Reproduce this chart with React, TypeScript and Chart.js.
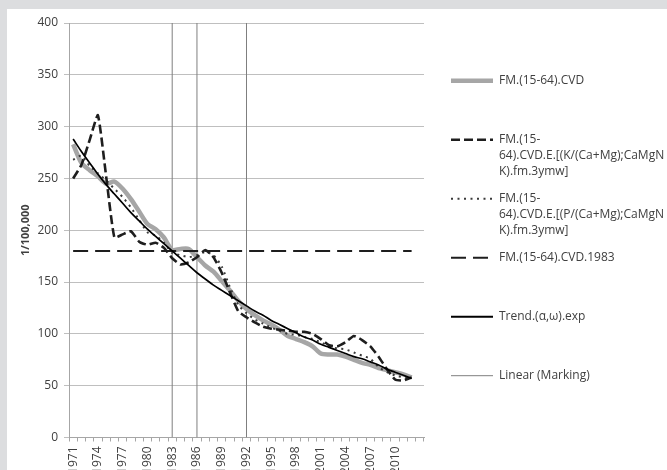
import React, { useEffect, useRef } from "react";
import { Chart, registerables } from "chart.js";

Chart.register(...registerables);

// Category axis (1971–2012 plus one trailing blank category)
const years: string[] = [
  "1971", "1972", "1973", "1974", "1975", "1976", "1977", "1978", "1979", "1980",
  "1981", "1982", "1983", "1984", "1985", "1986", "1987", "1988", "1989", "1990",
  "1991", "1992", "1993", "1994", "1995", "1996", "1997", "1998", "1999", "2000",
  "2001", "2002", "2003", "2004", "2005", "2006", "2007", "2008", "2009", "2010",
  "2011", "2012", "",
];

// FM.(15-64).CVD
const cvd: number[] = [
  283, 265, 258, 252, 245, 247, 240, 230, 218, 206,
  201, 193, 181, 182, 182, 174, 166, 160, 151, 142,
  132, 124, 118, 113, 109, 104, 98, 95, 92, 88,
  81, 80, 80, 78, 75, 72, 70, 67, 65, 63,
  61, 58,
];

// FM.(15-64).CVD.E.[(K/(Ca+Mg);CaMgNK).fm.3ymw]
const cvdK: number[] = [
  250, 263, 287, 311, 252, 193, 196, 199, 189, 186,
  188, 183, 173, 167, 169, 174, 181, 174, 159, 140,
  122, 116, 111, 107, 105, 104, 103, 102, 102, 100,
  95, 89, 88, 92, 98, 94, 88, 78, 66, 56,
  55, 58,
];

// FM.(15-64).CVD.E.[(P/(Ca+Mg);CaMgNK).fm.3ymw]
const cvdP: number[] = [
  268, 272, 262, 255, 248, 240, 232, 222, 210, 198,
  195, 188, 178, 176, 174, 176, 179, 176, 165, 145,
  128, 120, 114, 110, 106, 103, 100, 99, 97, 95,
  92, 88, 86, 85, 82, 79, 76, 68, 63, 60,
  58, 57,
];

// Trend.(α,ω).exp
const trend: number[] = [
  288, 276, 265, 254, 244, 235, 226, 217, 209, 201,
  194, 187, 180, 173, 166, 159, 153, 147, 142, 137,
  132, 127, 122, 118, 113, 109, 105, 101, 97, 94,
  90, 87, 84, 81, 78, 76, 73, 70, 66, 63,
  60, 57,
];

// FM.(15-64).CVD.1983 reference level
const cvd1983Level = 180;
const cvd1983Span: string[] = ["1971", "2012"];

// Linear (Marking): vertical markers
const markingYears: string[] = ["1983", "1986", "1992"];
const markingRange: number[] = [0, 400];

// Y axis
const yMin = 0;
const yMax = 400;
const yStep = 50;
const yTitle = "1/100,000";
const xLabelEvery = 3;

const legendLabels: string[][] = [
  ["FM.(15-64).CVD"],
  ["FM.(15-", "64).CVD.E.[(K/(Ca+Mg);CaMgN", "K).fm.3ymw]"],
  ["FM.(15-", "64).CVD.E.[(P/(Ca+Mg);CaMgN", "K).fm.3ymw]"],
  ["FM.(15-64).CVD.1983"],
  ["Trend.(\u03b1,\u03c9).exp"],
  ["Linear (Marking)"],
];

const FONT = "'Open Sans', 'DejaVu Sans', sans-serif";
const TEXT = "#404040";

type Sample = { color: string; width: number; dash: number[] };
const legendSamples: Sample[] = [
  { color: "#a6a6a6", width: 4.5, dash: [] },
  { color: "#1e1e1e", width: 2.6, dash: [9, 4] },
  { color: "#3a3a3a", width: 2, dash: [2, 4.5] },
  { color: "#1e1e1e", width: 2, dash: [15, 7] },
  { color: "#000000", width: 2, dash: [] },
  { color: "#7f7f7f", width: 1, dash: [] },
];

const legendPlugin = {
  id: "sideLegend",
  afterDraw(chart: Chart) {
    const ctx = chart.ctx;
    const x0 = 444;
    const x1 = 486;
    const tx = 492;
    const firstY = 71.7;
    const step = 59;
    const lineH = 15.8;
    ctx.save();
    legendLabels.forEach((lines, i) => {
      const y = firstY + i * step;
      const s = legendSamples[i];
      ctx.beginPath();
      ctx.strokeStyle = s.color;
      ctx.lineWidth = s.width;
      ctx.setLineDash(s.dash);
      ctx.lineCap = "butt";
      ctx.moveTo(x0, y);
      ctx.lineTo(x1, y);
      ctx.stroke();
      ctx.setLineDash([]);
      ctx.fillStyle = TEXT;
      ctx.font = `12px ${FONT}`;
      ctx.textBaseline = "middle";
      ctx.textAlign = "left";
      lines.forEach((t, j) => ctx.fillText(t, tx, y + j * lineH));
    });
    ctx.restore();
  },
};

export default function App() {
  const ref = useRef<HTMLCanvasElement | null>(null);

  useEffect(() => {
    if (!ref.current) return;
    const markingData = markingYears.flatMap((yr) => [
      { x: yr, y: markingRange[0] },
      { x: yr, y: markingRange[1] },
      { x: yr, y: null },
    ]);
    const levelData = cvd1983Span.map((yr) => ({ x: yr, y: cvd1983Level }));

    const chart = new Chart(ref.current, {
      type: "line",
      data: {
        labels: years,
        datasets: [
          {
            label: "Trend.(\u03b1,\u03c9).exp",
            data: trend,
            borderColor: legendSamples[4].color,
            borderWidth: 1.7,
            pointRadius: 0,
            tension: 0.4,
          },
          {
            label: "FM.(15-64).CVD.E.[(K/(Ca+Mg);CaMgNK).fm.3ymw]",
            data: cvdK,
            borderColor: legendSamples[1].color,
            borderWidth: legendSamples[1].width,
            borderDash: legendSamples[1].dash,
            pointRadius: 0,
            tension: 0.15,
          },
          {
            label: "FM.(15-64).CVD.E.[(P/(Ca+Mg);CaMgNK).fm.3ymw]",
            data: cvdP,
            borderColor: legendSamples[2].color,
            borderWidth: legendSamples[2].width,
            borderDash: legendSamples[2].dash,
            pointRadius: 0,
            tension: 0.2,
          },
          {
            label: "FM.(15-64).CVD.1983",
            data: levelData as any,
            borderColor: legendSamples[3].color,
            borderWidth: legendSamples[3].width,
            borderDash: legendSamples[3].dash,
            pointRadius: 0,
            tension: 0,
          },
          {
            label: "FM.(15-64).CVD",
            data: cvd,
            borderColor: legendSamples[0].color,
            borderWidth: legendSamples[0].width,
            pointRadius: 0,
            tension: 0.25,
          },
          {
            label: "Linear (Marking)",
            data: markingData as any,
            borderColor: legendSamples[5].color,
            borderWidth: 1,
            pointRadius: 0,
            tension: 0,
            spanGaps: false,
          },
        ],
      },
      options: {
        responsive: false,
        animation: false,
        devicePixelRatio: 1,
        layout: { padding: { left: 8, top: 14, right: 243, bottom: 0 } },
        plugins: {
          legend: { display: false },
          tooltip: { enabled: false },
        },
        scales: {
          x: {
            type: "category",
            offset: true,
            grid: {
              offset: true,
              drawOnChartArea: false,
              drawTicks: true,
              tickLength: 4,
              color: "#a6a6a6",
            },
            border: { color: "#a6a6a6" },
            ticks: {
              autoSkip: false,
              maxRotation: 90,
              minRotation: 90,
              padding: 5,
              color: TEXT,
              font: { family: FONT, size: 12 },
              callback: (_v: any, idx: number) => (idx % xLabelEvery === 0 ? years[idx] : ""),
            },
            afterFit: (s: any) => {
              s.height = 32.5;
            },
          },
          y: {
            min: yMin,
            max: yMax,
            ticks: {
              stepSize: yStep,
              padding: 6,
              color: TEXT,
              font: { family: FONT, size: 12 },
            },
            grid: { color: "#bfbfbf", tickLength: 5, drawTicks: true },
            border: { color: "#a6a6a6" },
            title: {
              display: true,
              text: yTitle,
              color: TEXT,
              font: { family: FONT, size: 11, weight: "bold" },
              padding: { top: 4, bottom: 0 },
            },
            afterFit: (s: any) => {
              s.width = 54;
            },
          },
        },
      },
      plugins: [legendPlugin],
    });
    return () => chart.destroy();
  }, []);

  return (
    <div
      style={{
        position: "absolute",
        left: 0,
        top: 0,
        width: 667,
        height: 470,
        background: "#dcdddf",
        overflow: "hidden",
      }}
    >
      <div
        style={{
          position: "absolute",
          left: 7,
          top: 9,
          width: 660,
          height: 461,
          background: "#ffffff",
        }}
      >
        <canvas ref={ref} width={660} height={461} style={{ display: "block" }} />
      </div>
    </div>
  );
}
